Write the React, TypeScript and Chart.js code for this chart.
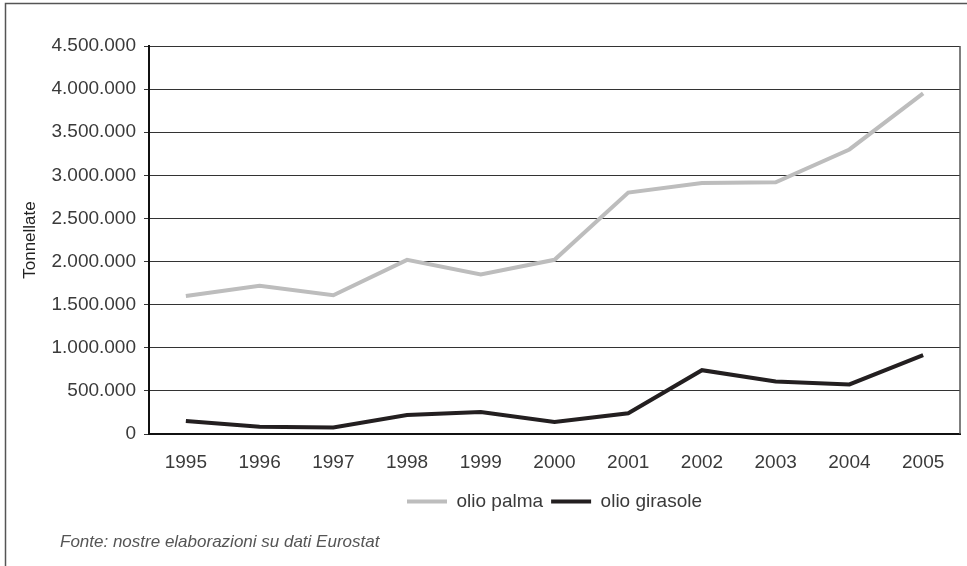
import React, { useEffect, useRef } from "react";
import { Chart, registerables } from "chart.js";

Chart.register(...registerables);

const years = ["1995", "1996", "1997", "1998", "1999", "2000", "2001", "2002", "2003", "2004", "2005"];
const oilPalm = [1600000, 1720000, 1610000, 2020000, 1850000, 2020000, 2800000, 2910000, 2920000, 3300000, 3950000];
const oilSunflower = [150000, 85000, 75000, 220000, 255000, 140000, 240000, 740000, 610000, 575000, 915000];
const seriesNames = ["olio palma", "olio girasole"];
const yAxisTitle = "Tonnellate";
const footerText = "Fonte: nostre elaborazioni su dati Eurostat";

const FONT = "'Liberation Sans', Arial, Helvetica, sans-serif";

const fmt = (v: number) => String(Math.round(v)).replace(/\B(?=(\d{3})+(?!\d))/g, ".");

const framePlugin = {
  id: "frame",
  beforeDraw(chart: any) {
    const ctx = chart.ctx;
    ctx.save();
    ctx.fillStyle = "#ffffff";
    ctx.fillRect(0, 0, chart.width, chart.height);
    ctx.strokeStyle = "#555555";
    ctx.lineWidth = 1.5;
    ctx.beginPath();
    ctx.moveTo(5.5, chart.height);
    ctx.lineTo(5.5, 3.5);
    ctx.lineTo(chart.width, 3.5);
    ctx.stroke();
    ctx.restore();
  },
  afterDraw(chart: any) {
    const ctx = chart.ctx;
    const a = chart.chartArea;
    ctx.save();
    ctx.strokeStyle = "#555555";
    ctx.lineWidth = 1.5;
    ctx.beginPath();
    ctx.moveTo(a.right, a.top);
    ctx.lineTo(a.right, a.bottom);
    ctx.stroke();
    ctx.fillStyle = "#555555";
    ctx.font = "italic 17px " + FONT;
    ctx.textBaseline = "middle";
    ctx.textAlign = "left";
    ctx.fillText(footerText, 60, 542);
    ctx.restore();
  },
};

export default function App() {
  const ref = useRef<HTMLCanvasElement | null>(null);
  useEffect(() => {
    document.body.style.margin = "0";
    const canvas = ref.current!;
    const chart = new Chart(canvas, {
      type: "line",
      data: {
        labels: years,
        datasets: [
          {
            label: seriesNames[0],
            data: oilPalm,
            borderColor: "#bdbdbd",
            backgroundColor: "#bdbdbd",
            borderWidth: 4,
            pointRadius: 0,
            tension: 0,
          },
          {
            label: seriesNames[1],
            data: oilSunflower,
            borderColor: "#231f20",
            backgroundColor: "#231f20",
            borderWidth: 4,
            pointRadius: 0,
            tension: 0,
          },
        ],
      },
      options: {
        animation: false,
        responsive: false,
        maintainAspectRatio: false,
        layout: { padding: { top: 46, left: 20, right: 7, bottom: 45 } },
        plugins: {
          tooltip: { enabled: false },
          legend: {
            position: "bottom",
            fullSize: false,
            labels: {
              boxWidth: 40,
              boxHeight: 4,
              padding: 8,
              color: "#3a3a3a",
              font: { family: FONT, size: 19 },
              generateLabels: (c: any) =>
                Chart.defaults.plugins.legend.labels.generateLabels(c).map((l: any) => ({
                  ...l,
                  fillStyle: l.strokeStyle,
                  lineWidth: 0,
                })),
            },
          },
        },
        scales: {
          x: {
            offset: true,
            grid: { display: false },
            border: { display: true, color: "#111111", width: 2 },
            ticks: { color: "#3a3a3a", font: { family: FONT, size: 19 }, padding: 9, maxRotation: 0 },
            afterFit: (s: any) => {
              s.height = 50;
            },
          },
          y: {
            min: 0,
            max: 4500000,
            ticks: {
              stepSize: 500000,
              color: "#3a3a3a",
              font: { family: FONT, size: 19 },
              padding: 8,
              callback: (v: any) => fmt(Number(v)),
            },
            grid: { color: "#333333", lineWidth: 1, tickLength: 5, tickColor: "#333333" },
            border: { display: true, color: "#111111", width: 2 },
            title: {
              display: true,
              text: yAxisTitle,
              color: "#222222",
              font: { family: FONT, size: 17 },
              padding: { top: 0, bottom: 0 },
            },
            afterFit: (s: any) => {
              s.width = 129;
            },
          },
        },
      },
      plugins: [framePlugin],
    });
    return () => chart.destroy();
  }, []);
  return <canvas ref={ref} width={967} height={566} style={{ display: "block" }} />;
}
